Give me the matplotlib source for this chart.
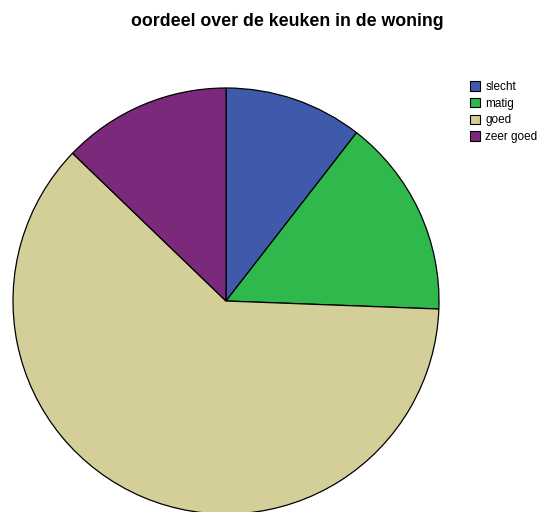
import matplotlib
matplotlib.use("Agg")
import matplotlib.pyplot as plt
from matplotlib.patches import Patch

plt.rcParams["font.family"] = ["Liberation Sans", "DejaVu Sans"]

labels = ["slecht", "matig", "goed", "zeer goed"]
shares = [10.5, 15.1, 61.6, 12.8]
colors = ["#3f5aab", "#2fb84b", "#d4cf98", "#7b2a7b"]

W, H = 552, 512
fig = plt.figure(figsize=(W / 100, H / 100), dpi=100)

# pie centred at (226, 301) px with radius 213 px
cx, cy, r = 226, 301, 213
ax = fig.add_axes([(cx - r) / W, (H - cy - r) / H, 2 * r / W, 2 * r / H])
wedges, _ = ax.pie(shares, colors=colors, startangle=90, counterclock=False,
                   wedgeprops=dict(edgecolor="black", linewidth=0.9))
for w in wedges:
    w.set_clip_on(False)
ax.set_xlim(-1, 1)
ax.set_ylim(-1, 1)
ax.set_aspect("equal")
ax.axis("off")

fig.text(287 / W, 1 - 21 / H, "oordeel over de keuken in de woning",
         ha="center", va="center", fontsize=12.8, fontweight="bold")

handles = [Patch(facecolor=c, edgecolor="black", linewidth=0.8, label=l)
           for c, l in zip(colors, labels)]
fig.legend(handles=handles, loc="upper left", bbox_to_anchor=(470 / W, 1 - 81 / H),
           frameon=False, fontsize=8.5, handlelength=0.85, handleheight=0.85,
           handletextpad=0.45, labelspacing=0.4, borderaxespad=0, borderpad=0)

fig.savefig("out.png", dpi=100)
